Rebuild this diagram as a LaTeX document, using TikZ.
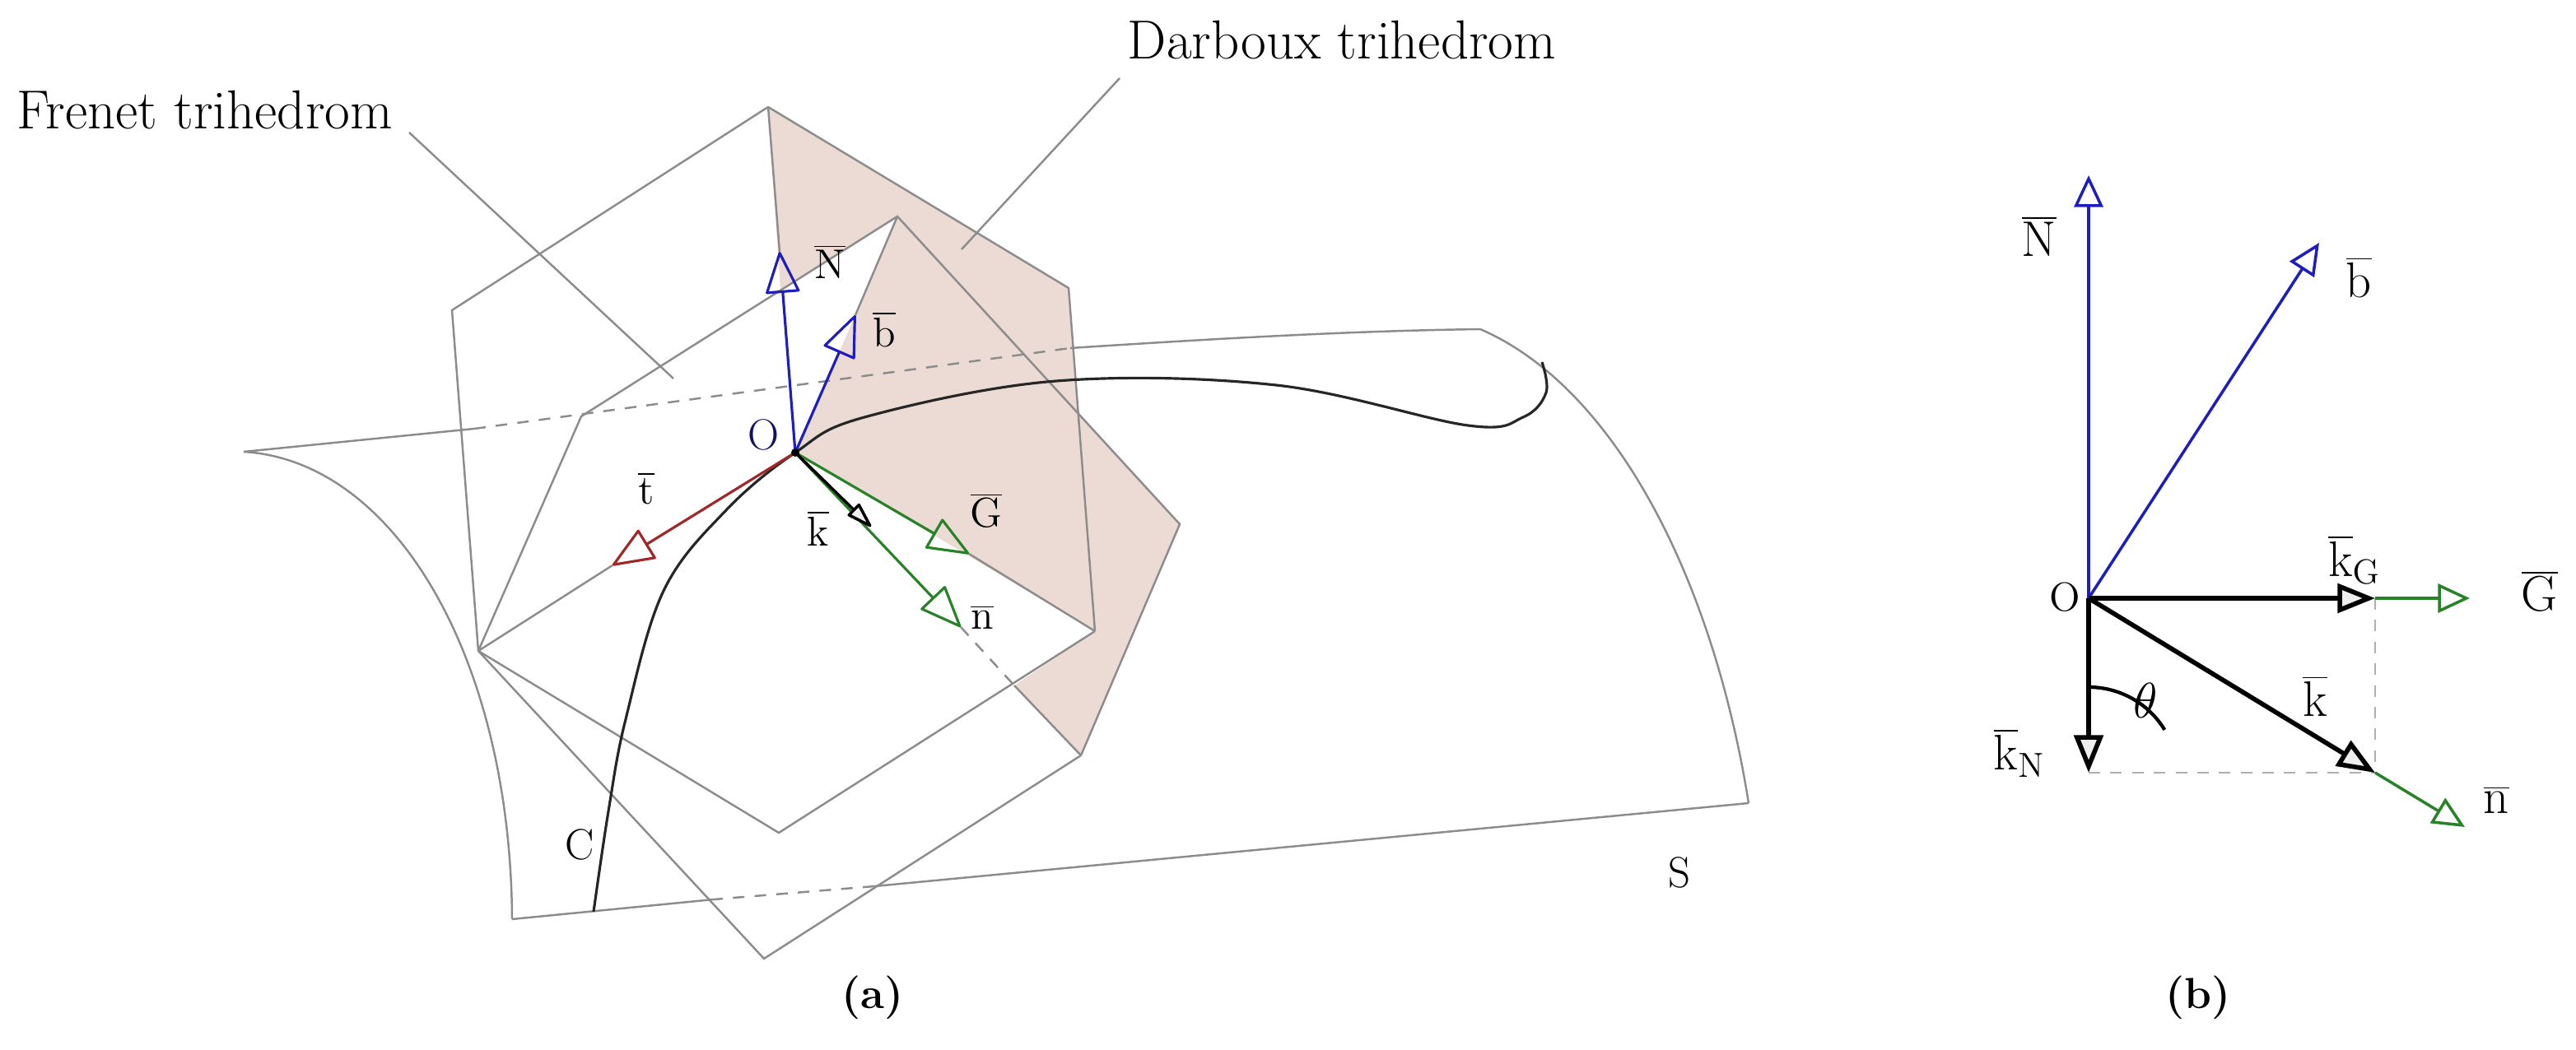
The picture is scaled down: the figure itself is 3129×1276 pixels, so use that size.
\documentclass[tikz,border=0pt]{standalone}
\usetikzlibrary{arrows.meta,calc}
\definecolor{pinkf}{RGB}{236,219,213}
\definecolor{gl}{RGB}{140,140,140}
\definecolor{vblue}{RGB}{30,30,190}
\definecolor{vred}{RGB}{160,40,40}
\definecolor{vgreen}{RGB}{40,130,40}
\definecolor{tipfill}{RGB}{238,238,238}
\begin{document}
\begin{tikzpicture}[x=0.01cm,y=-0.01cm,
  gline/.style={draw=gl,line width=0.7pt},
  gdash/.style={gline,dash pattern=on 4pt off 3.5pt},
  curveC/.style={draw=black!85,line width=0.9pt},
  tipA/.style={-{Triangle[open,round,length=15pt,width=12pt]}},
  vec/.style={line width=0.9pt,tipA},
  ksmall/.style={line width=1pt,-{Triangle[length=10pt,width=6pt,fill=tipfill,round]}},
  lab/.style={font=\fontsize{15}{17}\selectfont,inner sep=0pt},
  blab2/.style={font=\fontsize{17}{19}\selectfont,inner sep=0pt},
  big/.style={font=\fontsize{19}{21}\selectfont,inner sep=0pt},
  bvec/.style={line width=1pt,-{Triangle[open,length=11pt,width=10pt]}},
  kvec/.style={line width=1.6pt,-{Triangle[length=13pt,width=10pt,fill=tipfill]}},
  blab/.style={font=\fontsize{14}{16}\selectfont,inner sep=0pt}]
\useasboundingbox (0,0) rectangle (3129,1276);
% ---------- (a) coordinates
\coordinate (O) at (966,550);
\coordinate (T) at (933,130);
\coordinate (L1) at (549,377);
\coordinate (L2) at (581,791);
\coordinate (V2) at (706,506);
\coordinate (B) at (1090,263);
\coordinate (L3) at (946,1012);
\coordinate (L4) at (928,1165);
\coordinate (Q) at (1330,767);
\coordinate (W) at (1313,918);
\coordinate (P1) at (1298,350);
\coordinate (R) at (1433,637);
\coordinate (X) at (1310,503);
\coordinate (Cr) at (1232,833);
\coordinate (I) at (948,352);
\coordinate (Ntip) at (947,306);
\coordinate (btip) at (1039,383);
\coordinate (ttip) at (744,687);
\coordinate (ktip) at (1058,640);
\coordinate (Gtip) at (1177,673);
\coordinate (ntip) at (1167,762);
% pink Darboux plane
\fill[pinkf] (T) -- (P1) -- (X) -- (R) -- (W) -- (Cr) -- (Q) -- (O) -- (btip) -- (B) -- (I) -- cycle;
% surface S
\coordinate (S1) at (296,549);
\coordinate (S2) at (576,521);
\coordinate (S3) at (1300,423);
\coordinate (K) at (1798,400);
\coordinate (S4) at (2124,976);
\coordinate (S5) at (1062,1077);
\coordinate (S6) at (867,1093);
\coordinate (S7) at (622,1117);
\draw[gline] (S1) -- (S2);
\draw[gdash] (S2) -- (S3);
\draw[gline] (S3) .. controls (1500,410) and (1650,402) .. (K);
\draw[gline] (K) .. controls (1960,470) and (2080,700) .. (S4);
\draw[gline] (S4) -- (S5);
\draw[gdash] (S5) -- (S6);
\draw[gline] (S6) -- (S7);
\draw[gline] (S1) .. controls (480,560) and (620,800) .. (S7);
% trihedron planes
\draw[gline] (T) -- (L1) -- (L2);
\draw[gline] (T) -- (P1) -- (Q);
\draw[gline] (T) -- (Ntip);
\draw[gline] (L2) -- (V2) -- (B) -- (R) -- (W);
\draw[gline] (B) -- (btip);
\draw[gline] (L2) -- (ttip);
\draw[gline] (L2) -- (L3) -- (Q);
\draw[gline] (L2) -- (L4) -- (W);
\draw[gline] (Gtip) -- (Q);
\draw[gdash] (ntip) -- (Cr);
\draw[gline] (Cr) -- (W);
% leaders
\coordinate (FL) at (497,161);
\coordinate (FE) at (818,460);
\coordinate (DL) at (1360,95);
\coordinate (DE) at (1168,303);
\draw[gline] (FL) -- (FE);
\draw[gline] (DL) -- (DE);
\node[big,anchor=base west] (fren) at (20,157) {Frenet trihedrom};
\node[big,anchor=base] (darb) at (1630,72) {Darboux trihedrom};
% curve C
\draw[curveC] plot[smooth,tension=0.6] coordinates {(721,1108) (739,986) (760,874) (806,718) (882,620) (966,550) (1050,507) (1283,463) (1550,468) (1783,517) (1850,507) (1878,477) (1873,440)};
% vectors
\draw[vec,vblue] (O) -- (Ntip);
\draw[vec,vblue] (O) -- (btip);
\draw[vec,vred] (O) -- (ttip);
\draw[vec,vgreen] (O) -- (Gtip);
\draw[vec,vgreen] (O) -- (ntip);
\draw[ksmall] (O) -- (ktip);
\fill (O) circle (5);
% labels (a)
\node[lab,text=vblue!55!black] (Ol) at (927,528) {O};
\node[lab] (Nl) at (1008,318) {$\overline{\mathrm{N}}$};
\node[lab] (bl) at (1074,400) {$\overline{\mathrm{b}}$};
\node[lab] (tl) at (785,593) {$\overline{\mathrm{t}}$};
\node[lab] (kl) at (994,642) {$\overline{\mathrm{k}}$};
\node[lab] (Gl) at (1198,620) {$\overline{\mathrm{G}}$};
\node[lab] (nl) at (1193,750) {$\overline{\mathrm{n}}$};
\node[lab] (Cl) at (704,1026) {C};
\node[lab] (Sl) at (2040,1060) {S};
\node[lab,font=\fontsize{15}{17}\selectfont\bfseries] (al) at (1060,1212) {(a)};
% ---------- (b)
\coordinate (Ob) at (2537,727);
\coordinate (Nb) at (2537,213);
\coordinate (bb) at (2817,295);
\coordinate (kG) at (2885,727);
\coordinate (Gb) at (3000,727);
\coordinate (kN) at (2537,939);
\coordinate (kb) at (2885,939);
\coordinate (nb) at (2994,1005);
\draw[gdash,draw=gl!70,line width=0.6pt] (kG) -- (kb);
\draw[gdash,draw=gl!70,line width=0.6pt] (kN) -- (kb);
\draw[bvec,vblue] (Ob) -- (Nb);
\draw[bvec,vblue] (Ob) -- (bb);
\draw[bvec,vgreen] (kG) -- (Gb);
\draw[bvec,vgreen] (kb) -- (nb);
\draw[kvec] (Ob) -- (kG);
\draw[kvec] (Ob) -- (kN);
\draw[kvec] (Ob) -- (kb);
\draw[line width=1.2pt] ($(Ob)+(0,108)$) arc[start angle=-90,end angle=-31.3,radius=108];
\node[blab] (Obl) at (2508,726) {O};
\node[blab2] (Nbl) at (2477,287) {$\overline{\mathrm{N}}$};
\node[blab2] (bbl) at (2865,337) {$\overline{\mathrm{b}}$};
\node[blab2] (kGl) at (2860,680) {$\overline{\mathrm{k}}_{\mathrm{G}}$};
\node[blab2] (Gbl) at (3085,718) {$\overline{\mathrm{G}}$};
\node[blab2] (thl) at (2606,851) {$\theta$};
\node[blab2] (kbl) at (2812,846) {$\overline{\mathrm{k}}$};
\node[blab2] (kNl) at (2453,915) {$\overline{\mathrm{k}}_{\mathrm{N}}$};
\node[blab2] (nbl) at (3032,972) {$\overline{\mathrm{n}}$};
\node[lab,font=\fontsize{15}{17}\selectfont\bfseries] (bl2) at (2670,1212) {(b)};
\end{tikzpicture}
\end{document}
